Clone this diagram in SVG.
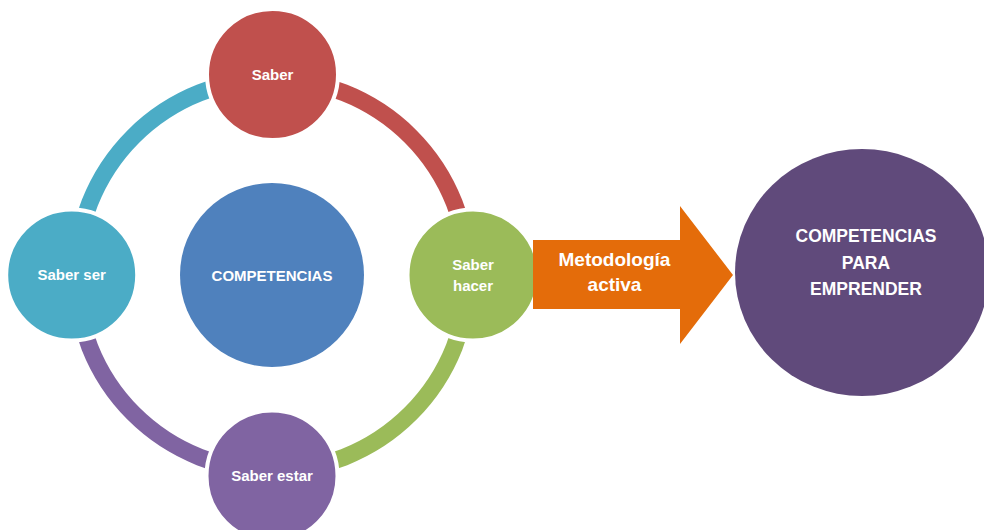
<svg xmlns="http://www.w3.org/2000/svg" width="984" height="530" viewBox="0 0 984 530">
<style>
.t{font-family:"Liberation Sans",Arial,sans-serif;font-weight:bold;fill:#fff;text-anchor:middle}
.n{font-size:15px}
.arc{fill:none;stroke-width:17}
.node{stroke:#fff;stroke-width:4}
</style>
<rect width="984" height="530" fill="#fff"/>
<g id="connectors">
<path class="arc" stroke="#C0504D" d="M272 79 A196 196 0 0 1 468 275"/>
<path class="arc" stroke="#9BBB59" d="M468 275 A196 196 0 0 1 272 471"/>
<path class="arc" stroke="#8064A2" d="M272 471 A196 196 0 0 1 76 275"/>
<path class="arc" stroke="#4BACC6" d="M76 275 A196 196 0 0 1 272 79"/>
</g>
<g id="competencias">
<circle cx="272" cy="275" r="92" fill="#4F81BD"/>
<text class="t n" x="272" y="280.5">COMPETENCIAS</text>
</g>
<g id="saber">
<circle class="node" cx="272.5" cy="74.5" r="65.5" fill="#C0504D"/>
<text class="t n" x="272.5" y="80">Saber</text>
</g>
<g id="saber-hacer">
<circle class="node" cx="473" cy="275" r="65.5" fill="#9BBB59"/>
<text class="t n" x="473" y="270">Saber</text>
<text class="t n" x="473" y="290.5">hacer</text>
</g>
<g id="saber-estar">
<circle class="node" cx="272" cy="476" r="65.5" fill="#8064A2"/>
<text class="t n" x="272" y="480.5">Saber estar</text>
</g>
<g id="saber-ser">
<circle class="node" cx="71.7" cy="275" r="65.5" fill="#4BACC6"/>
<text class="t n" x="71.7" y="280">Saber ser</text>
</g>
<g id="metodologia">
<polygon points="533,240 680,240 680,206 733,275 680,344 680,309 533,309" fill="#E46C0A"/>
<text class="t" font-size="19" x="614.5" y="266">Metodología</text>
<text class="t" font-size="19" x="614.5" y="291">activa</text>
</g>
<g id="competencias-emprender">
<ellipse cx="862" cy="272.5" rx="127" ry="123.5" fill="#604A7B"/>
<text class="t" font-size="17.5" x="866" y="242.3">COMPETENCIAS</text>
<text class="t" font-size="17.5" x="866" y="269.3">PARA</text>
<text class="t" font-size="17.5" x="866" y="295">EMPRENDER</text>
</g>
</svg>
